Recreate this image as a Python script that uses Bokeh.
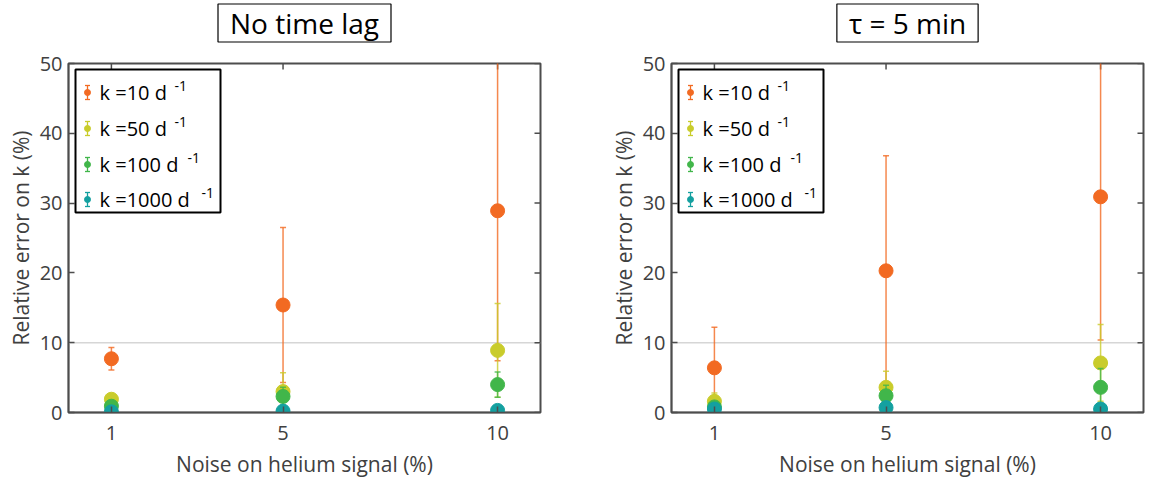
import math
from bokeh.plotting import figure
from bokeh.models import Range1d, FixedTicker, Span, BoxAnnotation, Label, ColumnDataSource
from bokeh.layouts import row, column
from bokeh.embed import file_html
from bokeh.resources import INLINE

# ---------------- data ----------------
noise_levels = [1, 5, 10]
k_values = ["10", "50", "100", "1000"]
y_ticks = [0, 10, 20, 30, 40, 50]
panel_titles = ["No time lag", "τ = 5 min"]

# No time lag: mean relative error (%) and error bar half-width
nolag_k10 = [7.7, 15.4, 28.9]
nolag_k10_err = [1.6, 11.1, 21.5]
nolag_k50 = [1.9, 3.0, 8.9]
nolag_k50_err = [0.5, 2.7, 6.7]
nolag_k100 = [0.9, 2.3, 4.0]
nolag_k100_err = [0.4, 1.3, 1.8]
nolag_k1000 = [0.1, 0.2, 0.3]
nolag_k1000_err = [0.05, 0.1, 0.15]

# tau = 5 min
tau5_k10 = [6.4, 20.3, 30.9]
tau5_k10_err = [5.8, 16.5, 20.5]
tau5_k50 = [1.6, 3.6, 7.1]
tau5_k50_err = [1.2, 2.3, 5.5]
tau5_k100 = [0.8, 2.4, 3.6]
tau5_k100_err = [0.5, 1.5, 2.7]
tau5_k1000 = [0.5, 0.7, 0.5]
tau5_k1000_err = [0.2, 0.2, 0.2]

colors = ["#F26A22", "#C9CC2B", "#41B64A", "#14A0A0"]

FONT = "Open Sans"
TXT = "#404040"
AX = "#4d4d4d"
FW, FH = 472, 349
XMAX, YMAX = 11, 50
BL = 68
STRIP_H = 45


def make_title(title, br):
    t = figure(frame_width=FW, frame_height=STRIP_H,
               x_range=Range1d(0, 1), y_range=Range1d(0, 1),
               output_backend="svg", toolbar_location=None,
               min_border_left=BL, min_border_right=br, min_border_top=0, min_border_bottom=0)
    t.axis.visible = False
    t.grid.visible = False
    t.outline_line_color = None
    t.background_fill_color = "white"
    t.border_fill_color = "white"
    t.add_layout(Label(x=0.5, y=0.5, text=title,
                       text_align="center", text_baseline="middle",
                       text_font=FONT, text_font_size="28px", text_color="black",
                       border_line_color="black", border_line_width=1.2,
                       background_fill_color="white",
                       padding=dict(left=12, right=12, top=0, bottom=0)))
    return t


def make_panel(means, errs, br):
    p = figure(frame_width=FW, frame_height=FH,
               x_range=Range1d(0, XMAX), y_range=Range1d(0, YMAX),
               output_backend="svg", toolbar_location=None,
               min_border_left=BL, min_border_right=br,
               min_border_top=63 - STRIP_H, min_border_bottom=0)
    p.xgrid.visible = False
    p.ygrid.visible = False
    p.outline_line_color = AX
    p.outline_line_width = 2
    p.background_fill_color = "white"
    p.border_fill_color = "white"

    p.xaxis.ticker = FixedTicker(ticks=noise_levels)
    p.yaxis.ticker = FixedTicker(ticks=y_ticks)
    p.xaxis.axis_label = "Noise on helium signal (%)"
    p.yaxis.axis_label = "Relative error on k (%)"
    for ax in p.axis:
        ax.axis_line_color = AX
        ax.axis_line_width = 1.5
        ax.major_tick_in = 6
        ax.major_tick_out = 0
        ax.major_tick_line_color = AX
        ax.major_tick_line_width = 1.5
        ax.minor_tick_line_color = None
        ax.major_label_text_font = FONT
        ax.major_label_text_font_size = "20px"
        ax.major_label_text_color = TXT
        ax.axis_label_text_font = FONT
        ax.axis_label_text_font_size = "21px"
        ax.axis_label_text_font_style = "normal"
        ax.axis_label_text_color = TXT
    p.xaxis.major_label_standoff = 13
    p.xaxis.axis_label_standoff = 7
    p.yaxis.major_label_standoff = 6
    p.yaxis.axis_label_standoff = 2

    # inward ticks on the top and right edges (clipped to the frame)
    p.scatter(x=noise_levels, y=[YMAX] * len(noise_levels), marker="dash", angle=math.pi / 2,
              size=12, line_color=AX, line_width=1.5)
    p.scatter(x=[XMAX] * len(y_ticks), y=y_ticks, marker="dash",
              size=12, line_color=AX, line_width=1.5)

    p.add_layout(Span(location=10, dimension="width", line_color="#d6d6d6", line_width=1.5, level="underlay"))

    for color, m, e in zip(colors, means, errs):
        src = ColumnDataSource(dict(x=noise_levels, y=m,
                                    lo=[a - b for a, b in zip(m, e)],
                                    hi=[a + b for a, b in zip(m, e)]))
        p.segment(x0="x", y0="lo", x1="x", y1="hi", source=src,
                  line_color=color, line_width=1.5, line_alpha=0.8)
        for col in ("lo", "hi"):
            p.scatter(x="x", y=col, marker="dash", size=6, source=src,
                      line_color=color, line_width=1.5, line_alpha=0.8)
        p.scatter(x="x", y="y", marker="circle", size=14, source=src,
                  fill_color=color, line_color=color)

    # ---- legend (drawn manually to show the superscript) ----
    def px2x(px):
        return px * XMAX / FW

    def px2y(py):
        return YMAX - py * YMAX / FH

    p.add_layout(BoxAnnotation(left=px2x(7), right=px2x(152), top=px2y(6), bottom=px2y(149),
                               fill_color="white", fill_alpha=1.0,
                               line_color="black", line_width=2, line_alpha=1.0))
    rows_py = [29, 65, 101, 136]
    sup_px = [106, 106, 119, 133]
    for color, k, py, sx in zip(colors, k_values, rows_py, sup_px):
        src = ColumnDataSource(dict(x=[px2x(19)], y=[px2y(py)], lo=[px2y(py + 7)], hi=[px2y(py - 7)]))
        r = p.segment(x0="x", y0="lo", x1="x", y1="hi", source=src, line_color=color, line_width=1.3)
        r.level = "overlay"
        for col in ("lo", "hi"):
            r = p.scatter(x="x", y=col, marker="dash", size=5, source=src, line_color=color, line_width=1.3)
            r.level = "overlay"
        r = p.scatter(x="x", y="y", marker="circle", size=6, source=src, fill_color=color, line_color=color)
        r.level = "overlay"
        p.add_layout(Label(x=px2x(31), y=px2y(py), text="k =" + k + " d", text_baseline="middle",
                           text_font=FONT, text_font_size="20px", text_color="black"))
        p.add_layout(Label(x=px2x(sx), y=px2y(py - 7), text="-1", text_baseline="middle",
                           text_font=FONT, text_font_size="14px", text_color="black"))
    return p


BR1, BR2 = 63, 2
t1 = make_title(panel_titles[0], BR1)
t2 = make_title(panel_titles[1], BR2)
p1 = make_panel([nolag_k10, nolag_k50, nolag_k100, nolag_k1000],
                [nolag_k10_err, nolag_k50_err, nolag_k100_err, nolag_k1000_err], BR1)
p2 = make_panel([tau5_k10, tau5_k50, tau5_k100, tau5_k1000],
                [tau5_k10_err, tau5_k50_err, tau5_k100_err, tau5_k1000_err], BR2)

layout = column(row(t1, t2), row(p1, p2))
open("out.html", "w").write(file_html(layout, INLINE))
